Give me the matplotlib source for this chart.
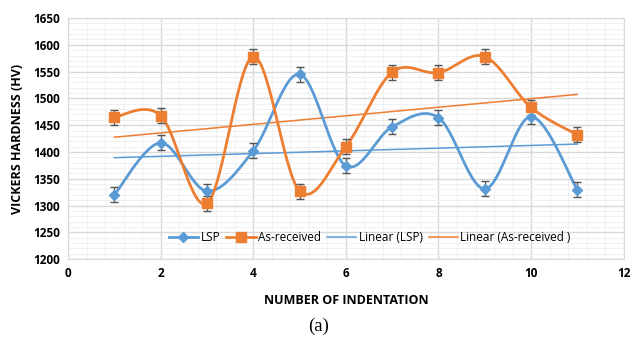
import numpy as np
import matplotlib
matplotlib.use("Agg")
import matplotlib.pyplot as plt
from matplotlib.ticker import MultipleLocator

# data
indentation = [1, 2, 3, 4, 5, 6, 7, 8, 9, 10, 11]
lsp = [1320, 1417, 1327, 1402, 1545, 1374, 1447, 1464, 1331, 1466, 1329]
as_received = [1465, 1468, 1304, 1578, 1327, 1410, 1549, 1548, 1578, 1483, 1432]
err = 14

BLUE = "#5B9BD5"
ORANGE = "#ED7D31"


def excel_smooth(x, y, n=30):
    # cubic bezier through points, catmull-rom style control points
    x = np.asarray(x, float)
    y = np.asarray(y, float)
    pts = np.column_stack([x, y])
    out = []
    for i in range(len(pts) - 1):
        p0 = pts[i - 1] if i > 0 else pts[i]
        p1 = pts[i]
        p2 = pts[i + 1]
        p3 = pts[i + 2] if i + 2 < len(pts) else pts[i + 1]
        c1 = p1 + (p2 - p0) / 6
        c2 = p2 - (p3 - p1) / 6
        t = np.linspace(0, 1, n)[:, None]
        seg = ((1 - t) ** 3) * p1 + 3 * ((1 - t) ** 2) * t * c1 + 3 * (1 - t) * t ** 2 * c2 + t ** 3 * p2
        out.append(seg if i == 0 else seg[1:])
    seg = np.vstack(out)
    return seg[:, 0], seg[:, 1]


plt.rcParams['font.family'] = ['Open Sans', 'DejaVu Sans']

fig = plt.figure(figsize=(6.3, 3.4), dpi=100)
ax = fig.add_axes([0.108, 0.238, 0.882, 0.709])

ax.set_xlim(0, 12)
ax.set_ylim(1200, 1650)
ax.xaxis.set_major_locator(MultipleLocator(2))
ax.xaxis.set_minor_locator(MultipleLocator(0.4))
ax.yaxis.set_major_locator(MultipleLocator(50))
ax.yaxis.set_minor_locator(MultipleLocator(10))
ax.grid(which="major", color="#d9d9d9", lw=1.0)
ax.grid(which="minor", color="#eeeeee", lw=0.6)
ax.set_axisbelow(True)
for s in ax.spines.values():
    s.set_color("#d9d9d9")
ax.tick_params(which="both", length=0)
ax.tick_params(labelsize=8.5, pad=6)
for lab in ax.get_xticklabels() + ax.get_yticklabels():
    lab.set_fontweight("bold")

# trendlines
xs = np.array([1, 11])
for vals, col, name in [(lsp, BLUE, "Linear (LSP)"), (as_received, ORANGE, "Linear (As-received )")]:
    k, b = np.polyfit(indentation, vals, 1)
    ax.plot(xs, k * xs + b, color=col, lw=1.1, label=name, zorder=2)

for vals, col, mk, ms, name in [(lsp, BLUE, "D", 5, "LSP"), (as_received, ORANGE, "s", 7, "As-received")]:
    sx, sy = excel_smooth(indentation, vals)
    ax.plot(sx, sy, color=col, lw=2.0, zorder=3)
    ax.errorbar(indentation, vals, yerr=err, fmt="none", ecolor="#555555", elinewidth=0.9, capsize=3, zorder=4)
    ax.plot(indentation, vals, ls="none", marker=mk, ms=ms, color=col, zorder=5)

# legend handles in the Excel order
h_lsp = plt.Line2D([], [], color=BLUE, lw=2, marker="D", ms=5)
h_ar = plt.Line2D([], [], color=ORANGE, lw=2, marker="s", ms=7)
h_l1 = plt.Line2D([], [], color=BLUE, lw=1.1)
h_l2 = plt.Line2D([], [], color=ORANGE, lw=1.1)
ax.legend([h_lsp, h_ar, h_l1, h_l2], ["LSP", "As-received", "Linear (LSP)", "Linear (As-received )"],
          loc="lower center", bbox_to_anchor=(0.543, 0.02), ncol=4, frameon=False,
          fontsize=8.5, handlelength=2.5, columnspacing=0.5, handletextpad=0.2)

ax.set_xlabel("NUMBER OF INDENTATION", fontsize=9, fontweight="bold", labelpad=10)
ax.set_ylabel("VICKERS HARDNESS (HV)", fontsize=9, fontweight="bold", labelpad=6)
fig.text(0.505, 0.04, "(a)", ha="center", va="center", fontsize=13.5, family="Liberation Serif")

fig.savefig("out.png", dpi=100)
